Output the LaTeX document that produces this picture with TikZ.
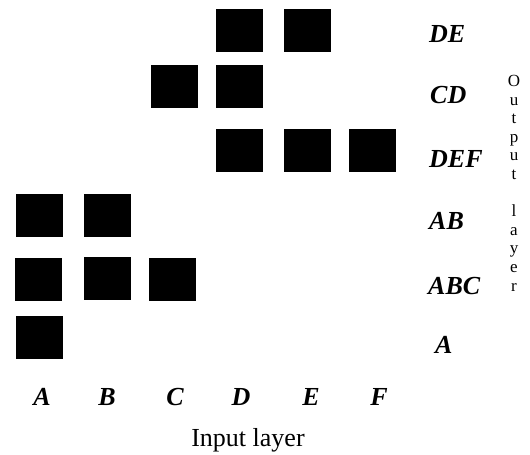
\documentclass[tikz,border=0pt]{standalone}
\usepackage{fontspec}
\setmainfont{Liberation Serif}
\tikzset{
  cell/.style={fill=black, draw=none, minimum width=47pt, minimum height=43pt, inner sep=0pt},
  lab/.style={inner sep=0pt, font=\fontsize{26}{26}\selectfont\bfseries\itshape},
  vtxt/.style={inner sep=0pt, anchor=north, align=center, font=\fontsize{17}{18.6}\selectfont},
  ttl/.style={inner sep=0pt, anchor=base, font=\fontsize{26}{26}\selectfont}
}
\begin{document}
\begin{tikzpicture}[x=1pt,y=-1pt]
\useasboundingbox (0,0) rectangle (530,455);
% row DE
\node[cell] (deD) at (239.5,30.5) {};
\node[cell] (deE) at (307.5,30.5) {};
% row CD
\node[cell] (cdC) at (174.5,86.5) {};
\node[cell] (cdD) at (239.5,86.5) {};
% row DEF
\node[cell] (defD) at (239.5,150.5) {};
\node[cell] (defE) at (307.5,150.5) {};
\node[cell] (defF) at (372.5,150.5) {};
% row AB
\node[cell] (abA) at (39.5,215) {};
\node[cell] (abB) at (107,215) {};
% row ABC
\node[cell] (abcA) at (38.5,279) {};
\node[cell] (abcB) at (107,278.5) {};
\node[cell] (abcC) at (172,279) {};
% row A
\node[cell] (aA) at (39.5,337) {};
% row labels
\node[lab, anchor=base west] (lDE) at (429,42) {DE};
\node[lab, anchor=base west] (lCD) at (430,103) {CD};
\node[lab, anchor=base west] (lDEF) at (429,167) {DEF};
\node[lab, anchor=base west] (lAB) at (429,229) {AB};
\node[lab, anchor=base west] (lABC) at (428,294) {ABC};
\node[lab, anchor=base west] (lA) at (435,353) {A};
% column labels
\node[lab, anchor=base] (cA) at (42,405) {A};
\node[lab, anchor=base] (cB) at (107,405) {B};
\node[lab, anchor=base] (cC) at (175,405) {C};
\node[lab, anchor=base] (cD) at (241,405) {D};
\node[lab, anchor=base] (cE) at (311,405) {E};
\node[lab, anchor=base] (cF) at (379,405) {F};
% input layer title
\node[ttl] (inp) at (248,446) {Input layer};
% vertical output layer
\node[vtxt] (outl) at (514,75) {O\\u\\t\\p\\u\\t\\[18.6pt]l\\a\\y\\e\\r};
\end{tikzpicture}
\end{document}
